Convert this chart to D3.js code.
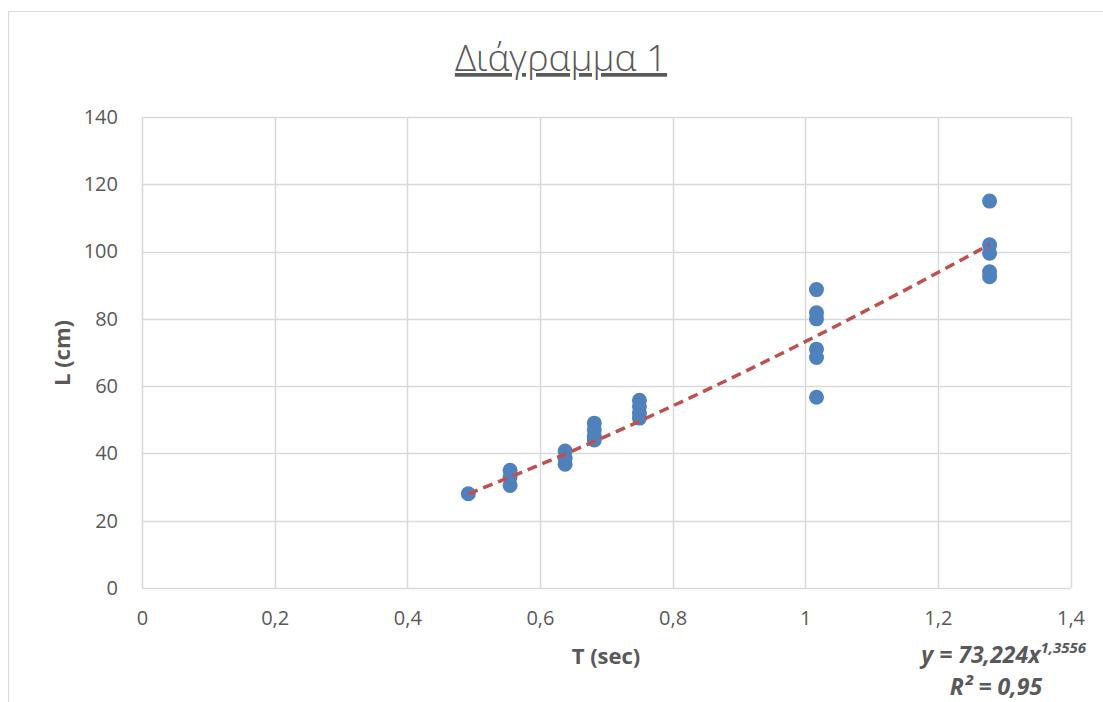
<!DOCTYPE html>
<html>
<head>
<meta charset="utf-8">
<script src="https://cdn.jsdelivr.net/npm/d3@7"></script>
<style>
  html, body { margin: 0; padding: 0; background: #fff; }
  svg { display: block; }
</style>
</head>
<body>
<svg id="chart" width="1103" height="702"></svg>
<script>
// ---- Data ----
const periodT = [
  0.492,
  0.555, 0.555, 0.555,
  0.638, 0.638, 0.638,
  0.682, 0.682, 0.682, 0.682,
  0.750, 0.750, 0.750, 0.750,
  1.017, 1.017, 1.017, 1.017, 1.017, 1.017,
  1.278, 1.278, 1.278, 1.278, 1.278
];
const lengthL = [
  28.0,
  35.0, 33.0, 30.5,
  40.7, 38.5, 36.8,
  49.0, 47.0, 45.0, 44.0,
  55.8, 54.0, 52.0, 50.5,
  88.7, 81.8, 80.0, 71.0, 68.5, 56.7,
  115.0, 102.0, 99.5, 94.0, 92.5
];
const xTicks = [0, 0.2, 0.4, 0.6, 0.8, 1, 1.2, 1.4];
const yTicks = [0, 20, 40, 60, 80, 100, 120, 140];
const fitA = 73.224, fitB = 1.3556;
const titleText = "Διάγραμμα 1";
const xTitle = "T (sec)";
const yTitle = "L (cm)";

// ---- Drawing ----
const svg = d3.select("#chart");
const fmt = v => String(v).replace(".", ",");
const plot = { left: 142, right: 1070.5, top: 117, bottom: 588 };
const FONT = "Open Sans, sans-serif";

const x = d3.scaleLinear().domain([0, 1.4]).range([plot.left, plot.right]);
const y = d3.scaleLinear().domain([0, 140]).range([plot.bottom, plot.top]);

// outer chart border (extends past window on right/bottom)
svg.append("rect")
  .attr("x", 8.5).attr("y", 11.5).attr("width", 1200).attr("height", 800)
  .attr("fill", "none").attr("stroke", "#d9d9d9").attr("stroke-width", 1);

// gridlines
svg.append("g").selectAll("line").data(xTicks).join("line")
  .attr("x1", d => Math.round(x(d)) + 0.5).attr("x2", d => Math.round(x(d)) + 0.5)
  .attr("y1", plot.top).attr("y2", plot.bottom)
  .attr("stroke", "#d9d9d9").attr("stroke-width", 1.5);
svg.append("g").selectAll("line").data(yTicks).join("line")
  .attr("y1", d => Math.round(y(d)) + 0.5).attr("y2", d => Math.round(y(d)) + 0.5)
  .attr("x1", plot.left).attr("x2", plot.right)
  .attr("stroke", "#d9d9d9").attr("stroke-width", 1.5);

// axes (labels only, via d3 axes)
const xAxis = d3.axisBottom(x).tickValues(xTicks).tickFormat(fmt).tickSize(0).tickPadding(23);
const gx = svg.append("g").attr("transform", `translate(0,${plot.bottom})`).call(xAxis);
gx.select(".domain").remove();
gx.selectAll("text").attr("font-family", FONT).attr("font-size", 20).attr("fill", "#595959");

const yAxis = d3.axisLeft(y).tickValues(yTicks).tickFormat(fmt).tickSize(0).tickPadding(24);
const gy = svg.append("g").attr("transform", `translate(${plot.left},0)`).call(yAxis);
gy.select(".domain").remove();
gy.selectAll("text").attr("font-family", FONT).attr("font-size", 20).attr("fill", "#595959");

// points
svg.append("g").selectAll("circle").data(periodT.map((t, i) => [t, lengthL[i]])).join("circle")
  .attr("cx", d => x(d[0])).attr("cy", d => y(d[1])).attr("r", 7.5)
  .attr("fill", "#4f81bd");

// power trendline
const tMin = d3.min(periodT), tMax = d3.max(periodT);
const trend = d3.range(0, 41).map(i => {
  const t = tMin + (tMax - tMin) * i / 40;
  return [t, fitA * Math.pow(t, fitB)];
});
svg.append("path").datum(trend)
  .attr("d", d3.line().x(d => x(d[0])).y(d => y(d[1])))
  .attr("fill", "none").attr("stroke", "#c0504d").attr("stroke-width", 3.5)
  .attr("stroke-dasharray", "10,6");

// title
svg.append("text").attr("x", 561).attr("y", 71).attr("text-anchor", "middle")
  .attr("font-family", FONT).attr("font-size", 37).attr("font-weight", 300)
  .attr("fill", "#595959").attr("text-decoration", "underline").text(titleText);

// axis titles
svg.append("text").attr("x", 606).attr("y", 664).attr("text-anchor", "middle")
  .attr("font-family", FONT).attr("font-size", 22).attr("font-weight", 700)
  .attr("fill", "#595959").text(xTitle);
svg.append("text").attr("transform", "translate(70,353) rotate(-90)").attr("text-anchor", "middle")
  .attr("font-family", FONT).attr("font-size", 22).attr("font-weight", 700)
  .attr("fill", "#595959").text(yTitle);

// equation label
const eq = svg.append("text").attr("x", 1086).attr("y", 663).attr("text-anchor", "end")
  .attr("font-family", FONT).attr("font-size", 23).attr("font-weight", 700)
  .attr("font-style", "italic").attr("fill", "#595959");
eq.append("tspan").text("y = " + fmt(fitA) + "x");
eq.append("tspan").attr("dy", -10).attr("font-size", 15).text(fmt(fitB));
svg.append("text").attr("x", 996).attr("y", 695).attr("text-anchor", "middle")
  .attr("font-family", FONT).attr("font-size", 23).attr("font-weight", 700)
  .attr("font-style", "italic").attr("fill", "#595959").text("R² = 0,95");
</script>
</body>
</html>
